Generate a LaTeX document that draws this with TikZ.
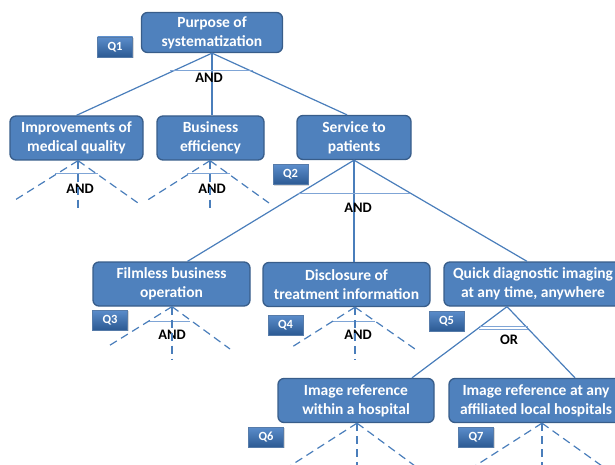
\documentclass[tikz,border=0pt]{standalone}
\usepackage{fontspec}
\setmainfont{Carlito}
\usetikzlibrary{shadows}
\definecolor{goalfill}{HTML}{4F81BD}
\definecolor{goaldraw}{HTML}{385D8A}
\definecolor{linkblue}{HTML}{4A7EBB}
\definecolor{barblue}{HTML}{7FA5D6}
\definecolor{qtop}{HTML}{5B8DCB}
\definecolor{qbot}{HTML}{2C5A93}
\tikzset{
  goal/.style={draw=goaldraw, line width=1.3pt, fill=goalfill, rounded corners=6pt,
    text=white, font=\fontsize{15.5}{19}\selectfont\bfseries, align=center,
    minimum height=44pt, inner sep=1pt},
  qlabel/.style={top color=qtop, bottom color=qbot, draw=qbot!80!white, line width=0.4pt,
    text=white, font=\fontsize{12.5}{14}\selectfont\bfseries, minimum width=35pt,
    minimum height=20pt, inner sep=1pt,
    drop shadow={opacity=0.3, shadow xshift=1pt, shadow yshift=-1pt}},
  link/.style={linkblue, line width=1.2pt},
  fan/.style={linkblue, line width=1.2pt, dash pattern=on 8pt off 5pt},
  gate/.style={barblue, line width=1pt},
  gatelabel/.style={font=\fontsize{14.5}{16}\selectfont\bfseries, inner sep=0pt},
}
\begin{document}
\begin{tikzpicture}[x=1pt, y=-1pt]
\useasboundingbox (0,0) rectangle (615,465);
\clip (0,0) rectangle (615,465);
% goals
\node[goal, minimum width=141pt, minimum height=40pt] (root) at (212,32.5) {Purpose of\\systematization};
\node[goal, minimum width=133pt] (imp) at (76.5,138) {Improvements of\\medical quality};
\node[goal, minimum width=107pt] (biz) at (210.5,138) {Business\\efficiency};
\node[goal, minimum width=114pt] (serv) at (354,137.5) {Service to\\patients};
\node[goal, minimum width=157pt] (film) at (171.5,284) {Filmless business\\operation};
\node[goal, minimum width=167pt] (disc) at (346.5,284.5) {Disclosure of\\treatment information};
\node[goal, minimum width=178pt] (quick) at (533,284) {Quick diagnostic imaging\\at any time, anywhere};
\node[goal, minimum width=156pt] (inhosp) at (356,400.5) {Image reference\\within a hospital};
\node[goal, minimum width=174pt] (local) at (536,400.5) {Image reference at any\\affiliated local hospitals};
% question labels
\node[qlabel] (q1) at (115,47) {Q1};
\node[qlabel] (q2) at (290.5,174.5) {Q2};
\node[qlabel] (q3) at (110,320) {Q3};
\node[qlabel] (q4) at (285.5,325) {Q4};
\node[qlabel] (q5) at (446.5,321) {Q5};
\node[qlabel] (q6) at (266,437) {Q6};
\node[qlabel] (q7) at (476,437) {Q7};
% decompositions
\draw[link] (root.south) -- (imp.north);
\draw[link] (root.south) -- (root.south |- biz.north);
\draw[link] (root.south) -- ([xshift=-7pt]serv.north);
\draw[link] (serv.south) -- ([xshift=16pt]film.north);
\draw[link] (serv.south) -- (serv.south |- disc.north);
\draw[link] (serv.south) -- ([xshift=-6pt]quick.north);
\draw[link] ([xshift=-26pt]quick.south) -- ([xshift=56pt]inhosp.north);
\draw[link] ([xshift=-26pt]quick.south) -- ([xshift=39pt]local.north);
% gates
\draw[gate] (170,71) -- (253,71);
\node[gatelabel] (and1) at (209,78) {AND};
\draw[gate] (298,193) -- (410,193);
\node[gatelabel] (and2) at (358,208) {AND};
\draw[gate] (55,174) -- (98,174);
\node[gatelabel] (and3) at (80,189) {AND};
\draw[gate] (187,174) -- (230,174);
\node[gatelabel] (and4) at (212,189) {AND};
\draw[gate] (148,321) -- (190,321);
\node[gatelabel] (and5) at (172,335) {AND};
\draw[gate] (332,321) -- (375,321);
\node[gatelabel] (and6) at (358,335) {AND};
\draw[gate] (479,326) -- (528,326);
\draw[gate] (479,329.5) -- (528,329.5);
\node[gatelabel] (or1) at (509,340) {OR};
% open branches
\coordinate (impT) at ([xshift=1.5pt]imp.south);
\coordinate (impL) at (15,200);
\coordinate (impB) at (78,210);
\coordinate (impR) at (138,203);
\coordinate (bizT) at ([xshift=-0.5pt]biz.south);
\coordinate (bizL) at (146,201);
\coordinate (bizB) at (210,210);
\coordinate (bizR) at (269,203);
\coordinate (filmT) at ([xshift=0.5pt]film.south);
\coordinate (filmL) at (107,347);
\coordinate (filmB) at (172,360);
\coordinate (filmR) at (230,349);
\coordinate (discT) at ([xshift=8.5pt]disc.south);
\coordinate (discL) at (292,347);
\coordinate (discB) at (355,360);
\coordinate (discR) at (415,349);
\coordinate (inhT) at ([xshift=1pt]inhosp.south);
\coordinate (inhL) at (290,466);
\coordinate (inhB) at (357,466);
\coordinate (inhR) at (415,466);
\coordinate (locT) at ([xshift=6pt]local.south);
\coordinate (locL) at (475,466);
\coordinate (locB) at (542,466);
\coordinate (locR) at (602,466);
\draw[fan] (impT) -- (impL);
\draw[fan] (impT) -- (impB);
\draw[fan] (impT) -- (impR);
\draw[fan] (bizT) -- (bizL);
\draw[fan] (bizT) -- (bizB);
\draw[fan] (bizT) -- (bizR);
\draw[fan] (filmT) -- (filmL);
\draw[fan] (filmT) -- (filmB);
\draw[fan] (filmT) -- (filmR);
\draw[fan] (discT) -- (discL);
\draw[fan] (discT) -- (discB);
\draw[fan] (discT) -- (discR);
\draw[fan] (inhT) -- (inhL);
\draw[fan] (inhT) -- (inhB);
\draw[fan] (inhT) -- (inhR);
\draw[fan] (locT) -- (locL);
\draw[fan] (locT) -- (locB);
\draw[fan] (locT) -- (locR);
\end{tikzpicture}
\end{document}
